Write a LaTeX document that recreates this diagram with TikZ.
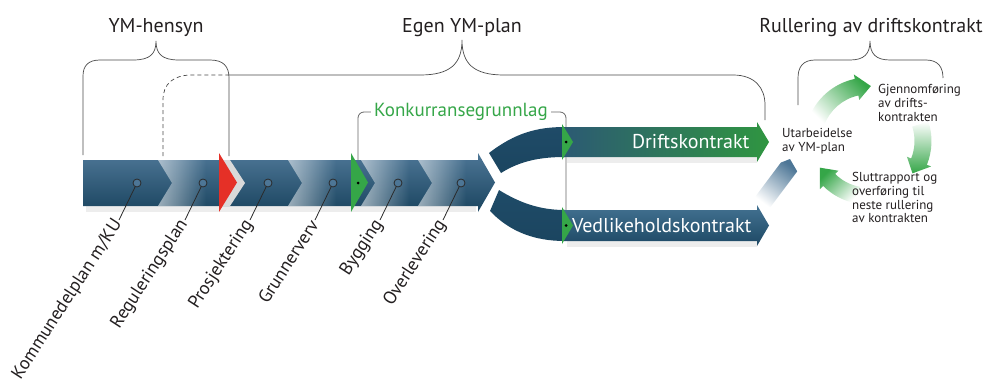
\documentclass[tikz,border=0pt]{standalone}
\usepackage{fontspec}
\setmainfont{PT Sans}
\usetikzlibrary{fadings}
\definecolor{barTop}{HTML}{4D7696}
\definecolor{barMid}{HTML}{2F6386}
\definecolor{barBot}{HTML}{1B4560}
\definecolor{cgreen}{HTML}{35A648}
\definecolor{dgreen}{HTML}{22803A}
\definecolor{cred}{HTML}{E53027}
\definecolor{tdark}{HTML}{231F20}
\definecolor{leadc}{HTML}{2A2A2A}
\definecolor{bracec}{HTML}{4A4A4A}
\definecolor{teal}{HTML}{2C5A73}
\tikzfading[name=fadeR, left color=transparent!0, right color=transparent!100]
\begin{document}
\begin{tikzpicture}[x=1pt,y=-1pt,
  bracestyle/.style={draw=bracec, line width=0.7pt},
  leader/.style={draw=leadc, line width=0.8pt},
  markc/.style={circle, minimum size=8pt, inner sep=0pt, draw=leadc, fill=barTop, line width=0.8pt},
  lbl/.style={rotate=57, anchor=east, inner sep=1.5pt, text=tdark, font=\fontsize{18.2}{21}\selectfont},
  head/.style={anchor=base, text=tdark, font=\fontsize{20}{24}\selectfont},
  bartext/.style={anchor=east, text=white, font=\fontsize{20}{24}\selectfont},
  cyc/.style={anchor=north west, align=left, inner sep=0pt, text=tdark, font=\fontsize{13}{13.8}\selectfont},
  barshade/.style={top color=barTop, middle color=barMid, bottom color=barBot},
  brshade/.style={top color=barBot!80!barMid, middle color=barMid!75!barTop, bottom color=barBot},
  shadowc/.style={fill=black, opacity=0.07},
  chevov/.style={fill=white, fill opacity=0.55, path fading=fadeR},
  gtri/.style={fill=cgreen},
  dotc/.style={fill=black, circle, inner sep=0pt, minimum size=3pt}
]
\useasboundingbox (0,0) rectangle (987,388);

% ---------- shadows ----------
\foreach \s in {2,4,6}{
  \fill[shadowc] (86,204+\s) rectangle (476,204+\s+2);
  \fill[shadowc] (567,155+\s) rectangle (757,155+\s+2);
  \fill[shadowc] (567,239+\s) rectangle (757,239+\s+2);
}

% ---------- braces ----------
\draw[bracestyle] (83,155) -- (83,76) .. controls (83,66) and (88,60) .. (100,60) -- (133,60)
  .. controls (150,60) and (156,54) .. (156,41) .. controls (156,54) and (162,60) .. (179,60)
  -- (210,60) .. controls (223,60) and (229,66) .. (229,78) -- (229,156);
\draw[bracestyle, dash pattern=on 4pt off 3pt] (163,156) -- (163,100) .. controls (163,84) and (173,75) .. (192,75) -- (229,75);
\draw[bracestyle] (229,75) -- (420,75) .. controls (450,75) and (462,64) .. (462,40)
  .. controls (462,64) and (474,75) .. (504,75) -- (733,75) .. controls (755,75) and (765,88) .. (765,105) -- (765,120);
\draw[bracestyle] (798,105) -- (798,78) .. controls (798,67) and (803,60) .. (815,60) -- (850,60)
  .. controls (864,60) and (870,54) .. (870,41) .. controls (870,54) and (876,60) .. (890,60)
  -- (926,60) .. controls (938,60) and (943,67) .. (943,78);

% ---------- headings ----------
\node[head] (h1) at (156,32) {YM-hensyn};
\node[head] (h2) at (462,32) {Egen YM-plan};
\node[head] (h3) at (871,32) {Rullering av driftskontrakt};

% ---------- Konkurransegrunnlag ----------
\coordinate (g1) at (358,183);
\coordinate (g2) at (566,142);
\coordinate (g3) at (566,225.5);
\node[text=cgreen, font=\fontsize{19}{23}\selectfont, inner sep=3pt] (k) at (461,112) {Konkurransegrunnlag};
\draw[leader, draw=gray!80!black, rounded corners=6pt] (g1) |- (k.west);
\draw[leader, draw=gray!80!black, rounded corners=6pt] (k.east) -| (g3);

% ---------- main bar ----------
\path[barshade] (83,160) -- (478,160) -- (478,153) -- (495,182.5) -- (478,212) -- (478,206) -- (83,206) -- cycle;
\foreach \b in {158,288,361,418}{
  \path[chevov] (\b,160) -- (\b+14,183) -- (\b,206) -- (\b+48,206) -- (\b+48,160) -- cycle;
}
\fill[gray!30] (219,160) -- (230,160) -- (245,183) -- (230,206) -- (219,206) -- cycle;
\fill[cred] (219,153) -- (237,182.5) -- (219,212) -- cycle;
\fill[gtri] (351,153) -- (368,182.5) -- (351,212) -- cycle;
\node[dotc] at (g1) {};

% ---------- branches ----------
\path[brshade]
  (489,153) .. controls (515,133) and (537,127) .. (565,127) -- (565,157)
  .. controls (540,157) and (520,161) .. (501,173) -- cycle;
\path[brshade]
  (499,190) .. controls (520,203) and (540,210) .. (565,210) -- (565,241)
  .. controls (535,241) and (510,232) .. (490,211) -- cycle;

\path[left color=teal, middle color=teal!55!cgreen, right color=cgreen!90!black]
  (564,127) -- (757,127) -- (757,122) -- (769,142) -- (757,162) -- (757,157) -- (564,157) -- cycle;
\path[top color=barMid!90!white, bottom color=barBot!90!barMid]
  (564,210) -- (757,210) -- (757,205) -- (769,225.5) -- (757,246) -- (757,241) -- (564,241) -- cycle;
\fill[gtri] (562,124) -- (573,142) -- (562,160) -- cycle;
\fill[gtri] (562,207) -- (573,225.5) -- (562,244) -- cycle;
\node[dotc] at (g2) {};
\node[dotc] at (g3) {};
\node[bartext] (d1) at (753,142) {Driftskontrakt};
\node[bartext] (d2) at (755,226) {Vedlikeholdskontrakt};

% ---------- stage markers and labels ----------
\foreach \i/\x/\t in {1/137/{Kommunedelplan m/KU}, 2/203/{Reguleringsplan}, 3/268/{Prosjektering},
                      4/333/{Grunnerverv}, 5/398/{Bygging}, 6/461/{Overlevering}}{
  \node[markc] (m\i) at (\x,183) {};
  \node[lbl] (l\i) at (\x-18,220) {\t};
  \draw[leader] (m\i) -- (l\i.east);
}

% ---------- blue arrow to Utarbeidelse ----------
\path[top color=barTop, bottom color=white, shading angle=-37]
  (753.8,198.6) -- (780.8,162.6) -- (790,159) -- (797.2,171.4) -- (770.2,207.4) -- cycle;

% ---------- cycle arrows ----------
\begin{scope}[shift={(868,141)}]
  \path[top color=cgreen, middle color=cgreen!45!white, bottom color=white, shading angle=-45]
    (200:63.5) arc[start angle=200, end angle=258, radius=63.5] -- (258:68) -- (273:55) -- (258:42)
    -- (258:46.5) arc[start angle=258, end angle=200, radius=46.5] -- cycle;
  \path[top color=white, middle color=cgreen!55!white, bottom color=cgreen]
    (-18:63.5) arc[start angle=-18, end angle=22, radius=63.5] -- (22:68) -- (36:55) -- (22:42)
    -- (22:46.5) arc[start angle=22, end angle=-18, radius=46.5] -- cycle;
  \path[top color=cgreen, middle color=cgreen!50!white, bottom color=white, shading angle=45]
    (100:63.5) arc[start angle=100, end angle=135, radius=63.5] -- (135:68) -- (151:55) -- (135:42)
    -- (135:46.5) arc[start angle=135, end angle=100, radius=46.5] -- cycle;
\end{scope}

\node[cyc] (c1) at (782,128) {Utarbeidelse\\av YM-plan};
\node[cyc] (c2) at (878,84) {Gjennomføring\\av drifts-\\kontrakten};
\node[cyc] (c3) at (852,172) {Sluttrapport og\\overføring til\\neste rullering\\av kontrakten};
\end{tikzpicture}
\end{document}
